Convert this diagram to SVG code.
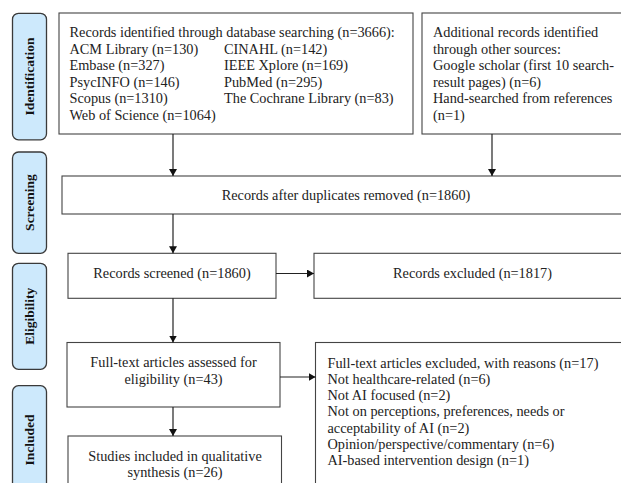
<svg xmlns="http://www.w3.org/2000/svg" width="621" height="483" viewBox="0 0 621 483">
<style>
.lab rect{fill:#cde9fc;stroke:#3a3a3a;stroke-width:1.3}
.lab text{font-family:"Liberation Serif",serif;font-weight:bold;font-size:13.5px;fill:#111;text-anchor:middle;dominant-baseline:central}
.box rect{fill:#fff;stroke:#444;stroke-width:1.1}
.box text{font-family:"Liberation Serif",serif;font-size:14.3px;fill:#222}
.c{text-anchor:middle}
.conn line{stroke:#222;stroke-width:1.2;fill:none}
</style>
<defs>
<marker id="ah" markerWidth="8" markerHeight="8" refX="7" refY="4" orient="auto" markerUnits="userSpaceOnUse">
<path d="M0,0 L7,4 L0,8 Z" fill="#111"/>
</marker>
</defs>
<rect width="621" height="483" fill="#fff"/>

<g id="lab-identification" class="lab"><rect x="12.5" y="13.3" width="34" height="126.5" rx="6"/><text transform="translate(29.5,76.5) rotate(-90)">Identification</text></g>
<g id="lab-screening" class="lab"><rect x="12.5" y="152" width="34" height="101.3" rx="6"/><text transform="translate(29.5,202.5) rotate(-90)">Screening</text></g>
<g id="lab-eligibility" class="lab"><rect x="12.5" y="263.3" width="34" height="106" rx="6"/><text transform="translate(29.5,316.3) rotate(-90)">Eligibility</text></g>
<g id="lab-included" class="lab"><rect x="12.5" y="385.7" width="34" height="110" rx="6"/><text transform="translate(29.5,440) rotate(-90)">Included</text></g>

<g id="n-db" class="box"><rect x="59" y="13" width="354" height="121"/>
<text x="69.5" y="37">Records identified through database searching (n=3666):</text>
<text x="69.5" y="53.6">ACM Library (n=130)</text><text x="224" y="53.6">CINAHL (n=142)</text>
<text x="69.5" y="70.2">Embase (n=327)</text><text x="224" y="70.2">IEEE Xplore (n=169)</text>
<text x="69.5" y="86.8">PsycINFO (n=146)</text><text x="224" y="86.8">PubMed (n=295)</text>
<text x="69.5" y="103.4">Scopus (n=1310)</text><text x="224" y="103.4">The Cochrane Library (n=83)</text>
<text x="69.5" y="120">Web of Science (n=1064)</text>
</g>
<g id="n-other" class="box"><rect x="422" y="13" width="215" height="121"/>
<text x="433" y="37">Additional records identified</text>
<text x="433" y="53.6">through other sources:</text>
<text x="433" y="70.2">Google scholar (first 10 search-</text>
<text x="433" y="86.8">result pages) (n=6)</text>
<text x="433" y="103.4">Hand-searched from references</text>
<text x="433" y="120">(n=1)</text>
</g>
<g id="n-dedup" class="box"><rect x="62" y="176" width="575" height="38"/>
<text x="346" y="200" class="c">Records after duplicates removed (n=1860)</text></g>
<g id="n-screened" class="box"><rect x="68" y="253.3" width="208" height="45"/>
<text x="172" y="277.5" class="c">Records screened (n=1860)</text></g>
<g id="n-excluded" class="box"><rect x="314" y="253.3" width="323" height="45"/>
<text x="472.5" y="277.5" class="c">Records excluded (n=1817)</text></g>
<g id="n-fulltext" class="box"><rect x="67" y="342.5" width="213" height="64.5"/>
<text x="173.5" y="366.5" class="c">Full-text articles assessed for</text>
<text x="173.5" y="383.5" class="c">eligibility (n=43)</text></g>
<g id="n-ftexcl" class="box"><rect x="315.5" y="342.5" width="321" height="160"/>
<text x="327.5" y="367.5">Full-text articles excluded, with reasons (n=17)</text>
<text x="327.5" y="383.8">Not healthcare-related (n=6)</text>
<text x="327.5" y="400.1">Not AI focused (n=2)</text>
<text x="327.5" y="416.4">Not on perceptions, preferences, needs or</text>
<text x="327.5" y="432.7">acceptability of AI (n=2)</text>
<text x="327.5" y="449">Opinion/perspective/commentary (n=6)</text>
<text x="327.5" y="465.3">AI-based intervention design (n=1)</text>
</g>
<g id="n-included" class="box"><rect x="68" y="436" width="213.5" height="70"/>
<text x="175" y="461" class="c">Studies included in qualitative</text>
<text x="175" y="477" class="c">synthesis (n=26)</text></g>

<g id="connectors" class="conn">
<line x1="173" y1="134" x2="173" y2="176" marker-end="url(#ah)"/>
<line x1="492" y1="134" x2="492" y2="176" marker-end="url(#ah)"/>
<line x1="173" y1="214" x2="173" y2="253.3" marker-end="url(#ah)"/>
<line x1="276" y1="273.5" x2="314" y2="273.5" marker-end="url(#ah)"/>
<line x1="173" y1="298.3" x2="173" y2="342.5" marker-end="url(#ah)"/>
<line x1="280" y1="377" x2="315.5" y2="377" marker-end="url(#ah)"/>
<line x1="173" y1="407" x2="173" y2="436" marker-end="url(#ah)"/>
</g>
</svg>
